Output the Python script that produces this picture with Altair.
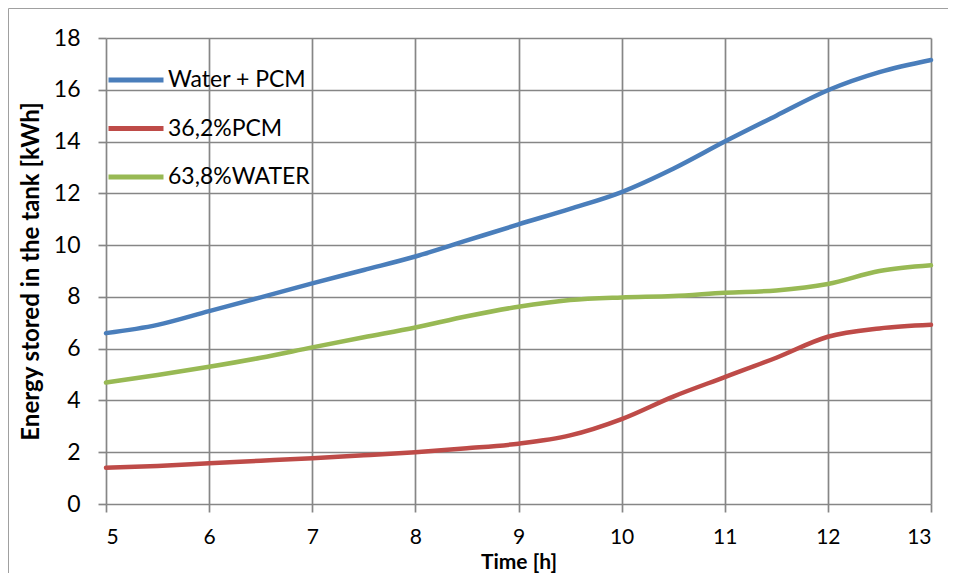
import altair as alt
import pandas as pd

time_h = [5, 5.5, 6, 6.5, 7, 7.5, 8, 8.5, 9, 9.5, 10, 10.5, 11, 11.5, 12, 12.5, 13]
water_pcm = [6.6, 6.92, 7.45, 7.98, 8.52, 9.04, 9.56, 10.18, 10.8, 11.4, 12.05, 12.95, 14.0, 15.0, 15.98, 16.68, 17.15]
pcm_362 = [1.4, 1.47, 1.57, 1.67, 1.77, 1.88, 2.0, 2.15, 2.33, 2.65, 3.28, 4.15, 4.9, 5.65, 6.46, 6.78, 6.92]
water_638 = [4.69, 4.98, 5.3, 5.65, 6.05, 6.44, 6.82, 7.25, 7.62, 7.88, 7.98, 8.03, 8.16, 8.25, 8.5, 9.0, 9.22]

series_names = ["Water + PCM", "36,2%PCM", "63,8%WATER"]
series_colors = ["#4A7EBB", "#BE4B48", "#98B954"]

rows = []
for name, vals in zip(series_names, [water_pcm, pcm_362, water_638]):
    for t, v in zip(time_h, vals):
        rows.append({"Time": t, "Energy": v, "Series": name})
df = pd.DataFrame(rows)

FONT = "Lato"
GRID = "#868686"

lines = alt.Chart(df).mark_line(strokeWidth=4.5, interpolate="monotone", strokeCap="round").encode(
    x=alt.X("Time:Q", scale=alt.Scale(domain=[5, 13], nice=False),
            axis=alt.Axis(title="Time [h]", values=list(range(5, 14)), format="d",
                          grid=True, gridColor=GRID, gridWidth=1.7, domain=False,
                          ticks=True, tickColor=GRID, tickSize=8, tickWidth=1.7,
                          labelFontSize=21, labelFont=FONT, labelColor="#000", labelPadding=14,
                          titleFontSize=21, titleFont=FONT, titleFontWeight="bold",
                          titleColor="#000", titleBaseline="alphabetic", titleY=64)),
    y=alt.Y("Energy:Q", scale=alt.Scale(domain=[0, 18], nice=False),
            axis=alt.Axis(title="Energy stored in the tank [kWh]", values=list(range(0, 19, 2)),
                          grid=True, gridColor=GRID, gridWidth=1.7, domain=False,
                          ticks=True, tickColor=GRID, tickSize=8, tickWidth=1.7,
                          labelFontSize=23, labelFont=FONT, labelColor="#000", labelPadding=18,
                          titleFontSize=24, titleFont=FONT, titleFontWeight="bold",
                          titleColor="#000", titlePadding=10)),
    color=alt.Color("Series:N",
                    scale=alt.Scale(domain=series_names, range=series_colors),
                    legend=alt.Legend(title=None, orient="none", legendX=0, legendY=12,
                                      symbolType="stroke", symbolSize=3025, symbolStrokeWidth=5,
                                      labelFontSize=23, labelFont=FONT, labelColor="#000",
                                      rowPadding=6.5, labelOffset=2, padding=0)),
)

border = alt.Chart(pd.DataFrame({"k": [0]})).mark_rect(
    fill="transparent", stroke="#A0A0A0", strokeWidth=1, clip=False
).encode(x=alt.value(-97.5), x2=alt.value(900), y=alt.value(-29.5), y2=alt.value(700))

chart = alt.layer(border, lines).properties(
    width=825, height=466,
    autosize=alt.AutoSizeParams(type="none"),
    padding={"left": 98, "top": 30, "right": 17, "bottom": 69},
).configure_view(strokeWidth=0)

chart.save("out.html", embed_options={"renderer": "svg", "actions": False})
